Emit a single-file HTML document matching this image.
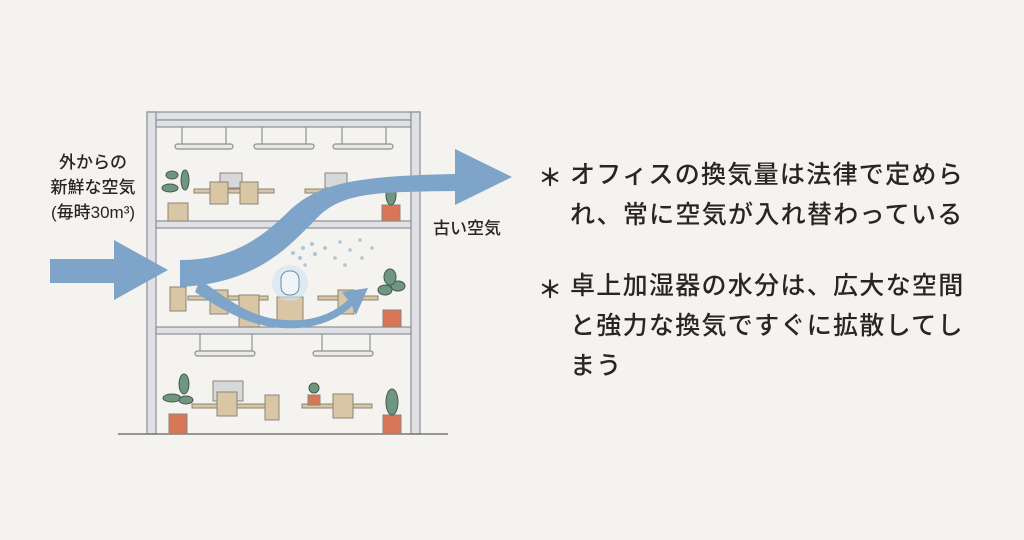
<!DOCTYPE html>
<html><head><meta charset="utf-8"><style>
body{margin:0;width:1024px;height:540px;background:#f5f3ef;overflow:hidden;position:relative;font-family:"Liberation Sans","Noto Sans CJK JP",sans-serif;color:#2b2522}
.t{position:absolute;font-size:25px;letter-spacing:1.3px;line-height:40px;font-weight:500}
.s{position:absolute;font-size:24px;left:538px;font-weight:bold}
</style></head><body>
<svg width="1024" height="540" style="position:absolute;left:0;top:0">
<g fill="#dfe1e4" stroke="#8b9096" stroke-width="1.2">
<rect x="147" y="112" width="273" height="8"/>
<rect x="156" y="120" width="255" height="7"/>
<rect x="147" y="112" width="9" height="322"/>
<rect x="411" y="112" width="9" height="322"/>
<rect x="156" y="221" width="255" height="7"/>
<rect x="156" y="327" width="255" height="7"/>
</g>
<line x1="118" y1="434" x2="448" y2="434" stroke="#777" stroke-width="1.5"/>
<g stroke="#8b9096" stroke-width="1.2" fill="#ece9e3">
<path d="M182 127v17M226 127v17M262 127v17M306 127v17M342 127v17M386 127v17M200 334v17M252 334v17M322 334v17M370 334v17" fill="none"/>
<rect x="175" y="144" width="58" height="5" rx="2.5"/>
<rect x="254" y="144" width="60" height="5" rx="2.5"/>
<rect x="333" y="144" width="60" height="5" rx="2.5"/>
<rect x="195" y="351" width="60" height="5" rx="2.5"/>
<rect x="313" y="351" width="60" height="5" rx="2.5"/>
</g>
<g fill="#d9c6a4" stroke="#8b8478" stroke-width="1">
<rect x="194" y="189" width="80" height="4"/><rect x="305" y="189" width="70" height="4"/>
<rect x="220" y="173" width="22" height="15" fill="#d6d8da"/><rect x="325" y="173" width="22" height="15" fill="#d6d8da"/>
<rect x="210" y="182" width="18" height="22"/><rect x="240" y="182" width="18" height="22"/>
<rect x="188" y="296" width="80" height="4"/><rect x="318" y="296" width="60" height="4"/>
<rect x="170" y="287" width="16" height="24"/><rect x="210" y="290" width="18" height="24"/>
<rect x="239" y="295" width="20" height="32"/><rect x="338" y="290" width="16" height="24"/>
<rect x="277" y="297" width="26" height="30"/>
<rect x="192" y="404" width="75" height="4"/><rect x="302" y="404" width="70" height="4"/>
<rect x="213" y="381" width="30" height="20" fill="#d6d8da"/>
<rect x="217" y="392" width="20" height="24"/><rect x="333" y="394" width="20" height="24"/>
<rect x="265" y="395" width="14" height="25"/>
</g>
<g>
<rect x="168" y="203" width="20" height="18" fill="#d9c6a4" stroke="#8b8478"/>
<rect x="382" y="205" width="18" height="16" fill="#d8765a" stroke="#8b8478"/>
<rect x="383" y="310" width="18" height="17" fill="#d8765a" stroke="#8b8478"/>
<rect x="169" y="414" width="18" height="20" fill="#d8765a" stroke="#8b8478"/>
<rect x="383" y="415" width="18" height="19" fill="#d8765a" stroke="#8b8478"/>
<rect x="308" y="395" width="12" height="10" fill="#d8765a" stroke="#8b8478"/>
<g fill="#6f9780" stroke="#45584d">
<ellipse cx="170" cy="188" rx="8" ry="4"/><ellipse cx="185" cy="180" rx="4" ry="10"/><ellipse cx="172" cy="175" rx="6" ry="4"/>
<ellipse cx="391" cy="195" rx="5" ry="10"/>
<ellipse cx="385" cy="290" rx="7" ry="5"/><ellipse cx="398" cy="286" rx="7" ry="5"/><ellipse cx="390" cy="277" rx="6" ry="8"/>
<ellipse cx="172" cy="398" rx="9" ry="4"/><ellipse cx="184" cy="384" rx="5" ry="10"/><ellipse cx="186" cy="400" rx="7" ry="4"/>
<ellipse cx="392" cy="402" rx="6" ry="13"/><ellipse cx="314" cy="388" rx="5" ry="5"/>
</g></g>
<circle cx="290" cy="283" r="18" fill="#cfe4f4" opacity=".6"/>
<rect x="281" y="271" width="18" height="24" rx="8" fill="#eef4f8" stroke="#6c8ba6"/>
<g fill="#a9c6dd">
<circle cx="293" cy="253" r="2"/><circle cx="303" cy="248" r="2"/><circle cx="312" cy="244" r="2"/><circle cx="300" cy="258" r="2"/><circle cx="315" cy="254" r="2"/><circle cx="325" cy="248" r="2"/><circle cx="340" cy="242" r="1.8"/><circle cx="350" cy="250" r="1.8"/><circle cx="360" cy="240" r="1.8"/><circle cx="335" cy="258" r="1.8"/><circle cx="345" cy="265" r="1.8"/><circle cx="362" cy="258" r="1.8"/><circle cx="372" cy="248" r="1.8"/><circle cx="305" cy="265" r="1.8"/>
</g>
<g fill="#7ea5c9">
<path d="M50 259H114V240L168 270L114 300V283H50Z"/>
<path d="M180 260 C230 260,260 240,290 210 C320 182,360 176,455 174 V149 L512 177 L455 205 V191 C380 192,345 192,320 215 C290 245,260 283,180 287 Z"/>
<path d="M200 280 C230 300,250 318,285 320 C315 322,335 312,348 300 L342 292 L368 288 L356 315 L352 306 C335 322,310 330,282 328 C250 326,225 312,195 292Z"/>
</g>
</svg>
<div style="position:absolute;left:28px;top:150px;width:130px;text-align:center;font-size:17px;line-height:25px;font-weight:500">外からの<br>新鮮な空気<br>(毎時30m³)</div>
<div style="position:absolute;left:433px;top:214px;font-size:17px;font-weight:500">古い空気</div>
<div class="s" style="top:158px">＊</div>
<div class="t" style="left:570px;top:155px">オフィスの換気量は法律で定めら<br>れ、常に空気が入れ替わっている</div>
<div class="s" style="top:270px">＊</div>
<div class="t" style="left:570px;top:266px">卓上加湿器の水分は、広大な空間<br>と強力な換気ですぐに拡散してし<br>まう</div>
</body></html>
